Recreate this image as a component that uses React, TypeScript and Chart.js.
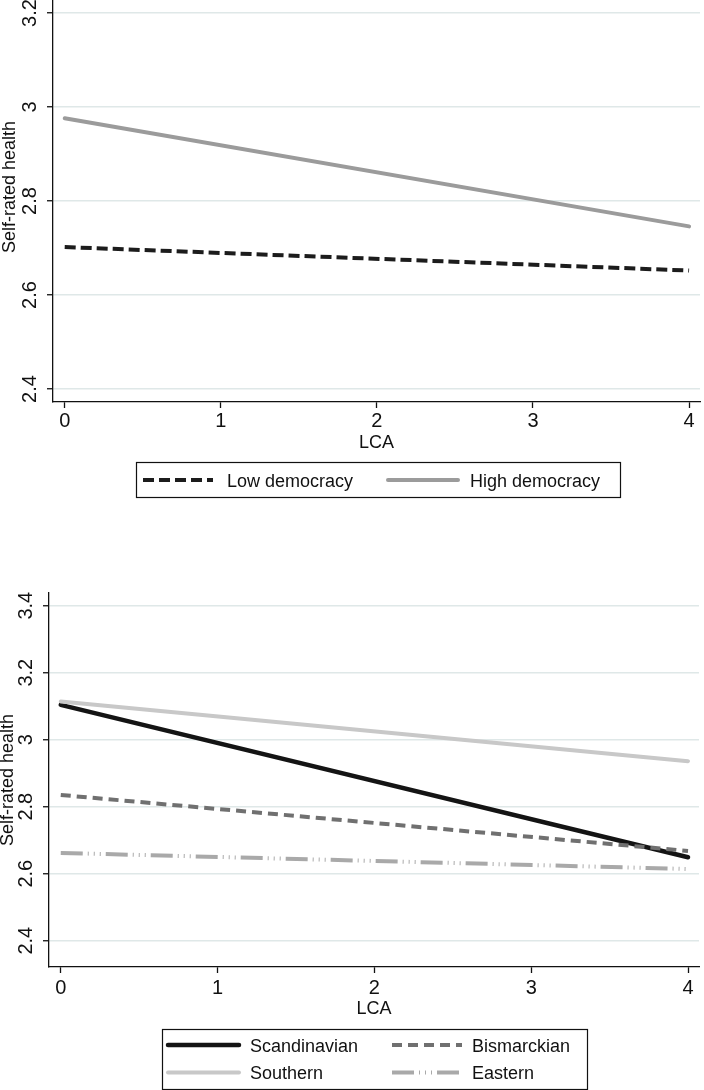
import React, { useEffect, useRef } from "react";
import { Chart, registerables } from "chart.js";

Chart.register(...registerables);

// ---- data ----
const lcaPoints = [0, 4];
const lcaTicks = [0, 1, 2, 3, 4];

// upper panel: democracy level
const lowDemocracy = [2.702, 2.652];
const highDemocracy = [2.976, 2.746];
const upperYTicks = [2.4, 2.6, 2.8, 3, 3.2];
const upperYTickLabels = ["2.4", "2.6", "2.8", "3", "3.2"];

// lower panel: welfare regime
const scandinavian = [3.104, 2.649];
const bismarckian = [2.835, 2.668];
const southern = [3.114, 2.936];
const eastern = [2.662, 2.614];
const lowerYTicks = [2.4, 2.6, 2.8, 3, 3.2, 3.4];
const lowerYTickLabels = ["2.4", "2.6", "2.8", "3", "3.2", "3.4"];

const xAxisTitle = "LCA";
const yAxisTitle = "Self-rated health";

// ---- styling ----
const FONT = '"Liberation Sans", Arial, Helvetica, sans-serif';
const TEXT = "#111111";
const AXIS = "#111111";
const GRID = "#dfe8e8";
const FONT_SIZE = 18;
const TICK_SIZE = 20;

const toPoints = (ys: number[]) => ys.map((y, i) => ({ x: lcaPoints[i], y }));

// rotated y tick labels and the y axis title
const rotatedYAxisPlugin = {
  id: "rotatedYAxis",
  afterDraw(chart: any, _args: any, opts: any) {
    const { ctx, chartArea } = chart;
    const y = chart.scales.y;
    ctx.save();
    ctx.fillStyle = TEXT;
    ctx.textAlign = "center";
    ctx.textBaseline = "middle";
    ctx.font = `${TICK_SIZE}px ${FONT}`;
    y.ticks.forEach((t: any, i: number) => {
      const py = y.getPixelForValue(t.value);
      ctx.save();
      ctx.translate(chartArea.left - opts.labelOffset, py);
      ctx.rotate(-Math.PI / 2);
      ctx.fillText(opts.labels[i], 0, 0);
      ctx.restore();
    });
    ctx.font = `${FONT_SIZE}px ${FONT}`;
    ctx.save();
    ctx.translate(chartArea.left - opts.titleOffset, (chartArea.top + chartArea.bottom) / 2);
    ctx.rotate(-Math.PI / 2);
    ctx.fillText(opts.title, 0, 0);
    ctx.restore();
    ctx.restore();
  },
};

// boxed legend with fixed columns
const boxedLegendPlugin = {
  id: "boxedLegend",
  afterDraw(chart: any, _args: any, opts: any) {
    const ctx = chart.ctx;
    const b = opts.box;
    ctx.save();
    ctx.strokeStyle = AXIS;
    ctx.lineWidth = 1.2;
    ctx.setLineDash([]);
    ctx.strokeRect(b.x + 0.5, b.y + 0.5, b.w, b.h);
    opts.items.forEach((it: any) => {
      const ds = chart.data.datasets[it.dataset];
      ctx.beginPath();
      ctx.strokeStyle = ds.borderColor;
      ctx.lineWidth = ds.borderWidth;
      ctx.lineCap = ds.borderCapStyle || "butt";
      ctx.setLineDash(ds.borderDash || []);
      ctx.moveTo(it.x1, it.y);
      ctx.lineTo(it.x2, it.y);
      ctx.stroke();
      ctx.setLineDash([]);
      ctx.fillStyle = TEXT;
      ctx.font = `${FONT_SIZE}px ${FONT}`;
      ctx.textAlign = "left";
      ctx.textBaseline = "alphabetic";
      ctx.fillText(ds.label, it.tx, it.y + 6.5);
    });
    ctx.restore();
  },
};

type PanelSpec = {
  datasets: any[];
  yMin: number;
  yMax: number;
  yTicks: number[];
  yTickLabels: string[];
  left: number;
  right: number;
  top: number;
  bottom: number;
  height: number;
  tickPadding: number;
  titlePadding: number;
  labelOffset: number;
  titleOffset: number;
  legend: any;
};

function buildConfig(p: PanelSpec): any {
  return {
    type: "line",
    data: { datasets: p.datasets },
    plugins: [rotatedYAxisPlugin, boxedLegendPlugin],
    options: {
      animation: false,
      responsive: false,
      maintainAspectRatio: false,
      layout: { padding: { left: 0, right: 704 - p.right, top: p.top, bottom: 0 } },
      elements: { point: { radius: 0 }, line: { tension: 0 } },
      plugins: {
        legend: { display: false },
        tooltip: { enabled: false },
        rotatedYAxis: {
          labels: p.yTickLabels,
          title: yAxisTitle,
          labelOffset: p.labelOffset,
          titleOffset: p.titleOffset,
        },
        boxedLegend: p.legend,
      },
      scales: {
        x: {
          type: "linear",
          min: -0.075,
          max: 4.07,
          afterBuildTicks: (s: any) => {
            s.ticks = lcaTicks.map((v) => ({ value: v }));
          },
          afterFit: (s: any) => {
            s.height = p.height - p.bottom;
          },
          ticks: {
            color: TEXT,
            font: { family: FONT, size: TICK_SIZE },
            padding: p.tickPadding,
            maxRotation: 0,
            callback: (v: any) => String(v),
          },
          grid: {
            display: true,
            drawOnChartArea: false,
            drawTicks: true,
            tickLength: 6,
            tickColor: AXIS,
            tickWidth: 1.3,
          },
          border: { display: true, color: AXIS, width: 1.3 },
          title: {
            display: true,
            text: xAxisTitle,
            color: TEXT,
            font: { family: FONT, size: FONT_SIZE },
            padding: { top: 0, bottom: p.titlePadding },
          },
        },
        y: {
          type: "linear",
          min: p.yMin,
          max: p.yMax,
          afterBuildTicks: (s: any) => {
            s.ticks = p.yTicks.map((v) => ({ value: v }));
          },
          afterFit: (s: any) => {
            s.width = p.left;
          },
          ticks: { display: false },
          grid: {
            color: GRID,
            lineWidth: 1.5,
            drawTicks: true,
            tickLength: 6,
            tickColor: AXIS,
            tickWidth: 1.3,
          },
          border: { display: true, color: AXIS, width: 1.3 },
        },
      },
    },
  };
}

function Panel({ spec, shift, boxHeight }: { spec: PanelSpec; shift: number; boxHeight: number }) {
  const ref = useRef<HTMLCanvasElement | null>(null);
  useEffect(() => {
    if (!ref.current) return;
    const chart = new Chart(ref.current, buildConfig(spec));
    return () => chart.destroy();
  }, []);
  return (
    <div style={{ position: "relative", width: 704, height: boxHeight, overflow: "hidden" }}>
      <canvas
        ref={ref}
        width={704}
        height={spec.height}
        style={{ position: "absolute", left: 0, top: shift, width: 704, height: spec.height, display: "block" }}
      />
    </div>
  );
}

const upperSpec: PanelSpec = {
  datasets: [
    {
      label: "Low democracy",
      data: toPoints(lowDemocracy),
      borderColor: "#1c1c1c",
      borderWidth: 4,
      borderDash: [11, 5],
      borderCapStyle: "butt",
    },
    {
      label: "High democracy",
      data: toPoints(highDemocracy),
      borderColor: "#9b9b9b",
      borderWidth: 4,
      borderCapStyle: "round",
    },
  ],
  yMin: 2.37234,
  yMax: 3.28723,
  yTicks: upperYTicks,
  yTickLabels: upperYTickLabels,
  left: 53,
  right: 700,
  top: 0,
  bottom: 430,
  height: 533,
  tickPadding: 1.5,
  titlePadding: 51,
  labelOffset: 23,
  titleOffset: 43,
  legend: {
    box: { x: 136, y: 490, w: 484, h: 35 },
    items: [
      { dataset: 0, x1: 143, x2: 213, tx: 227, y: 508 },
      { dataset: 1, x1: 388, x2: 458, tx: 470, y: 508 },
    ],
  },
};

const lowerSpec: PanelSpec = {
  datasets: [
    {
      label: "Scandinavian",
      data: toPoints(scandinavian),
      borderColor: "#141414",
      borderWidth: 4.5,
      borderCapStyle: "round",
      order: 2,
    },
    {
      label: "Bismarckian",
      data: toPoints(bismarckian),
      borderColor: "#707070",
      borderWidth: 4,
      borderDash: [10, 6],
      borderCapStyle: "butt",
      order: 1,
    },
    {
      label: "Southern",
      data: toPoints(southern),
      borderColor: "#c8c8c8",
      borderWidth: 4,
      borderCapStyle: "round",
      order: 1,
    },
    {
      label: "Eastern",
      data: toPoints(eastern),
      borderColor: "#a9a9a9",
      borderWidth: 4,
      borderDash: [22, 5, 1, 5, 1, 5, 1, 5],
      borderCapStyle: "butt",
      order: 1,
    },
  ],
  yMin: 2.3215,
  yMax: 3.4379,
  yTicks: lowerYTicks,
  yTickLabels: lowerYTickLabels,
  left: 49,
  right: 699,
  top: 88,
  bottom: 462,
  height: 585,
  tickPadding: 3.5,
  titlePadding: 70,
  labelOffset: 23,
  titleOffset: 41,
  legend: {
    box: { x: 162, y: 524, w: 425, h: 60 },
    items: [
      { dataset: 0, x1: 168, x2: 239, tx: 250, y: 540 },
      { dataset: 1, x1: 392, x2: 462, tx: 472, y: 540 },
      { dataset: 2, x1: 168, x2: 239, tx: 250, y: 567.5 },
      { dataset: 3, x1: 392, x2: 462, tx: 472, y: 567.5 },
    ],
  },
};

export default function App() {
  return (
    <div style={{ width: 704, background: "#ffffff" }}>
      <style>{"body{margin:0;background:#ffffff;}"}</style>
      <Panel spec={upperSpec} shift={-28} boxHeight={505} />
      <Panel spec={lowerSpec} shift={0} boxHeight={585} />
    </div>
  );
}
